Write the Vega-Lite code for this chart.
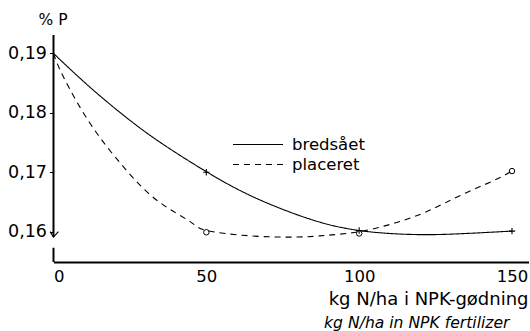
{
  "$schema": "https://vega.github.io/schema/vega-lite/v6.json",
  "autosize": "none",
  "width": 475,
  "height": 227,
  "padding": {"left": 53.5, "top": 35, "right": 1.5, "bottom": 69},
  "background": "white",
  "config": {
    "view": {"stroke": null},
    "font": "DejaVu Sans",
    "axis": {"labelFont": "DejaVu Sans", "titleFont": "DejaVu Sans", "labelColor": "black", "titleColor": "black"}
  },
  "title": {
    "text": "kg N/ha in NPK fertilizer",
    "orient": "bottom",
    "anchor": "end",
    "fontStyle": "italic",
    "fontWeight": "normal",
    "fontSize": 15.6,
    "font": "DejaVu Sans",
    "color": "black",
    "dx": -19,
    "offset": 8
  },
  "datasets": {
    "curves": [
      {"series": "bredsået", "x": 0, "y": 0.19},
      {"series": "bredsået", "x": 10, "y": 0.1852},
      {"series": "bredsået", "x": 20, "y": 0.1808},
      {"series": "bredsået", "x": 30, "y": 0.1768},
      {"series": "bredsået", "x": 40, "y": 0.1733},
      {"series": "bredsået", "x": 50, "y": 0.1701},
      {"series": "bredsået", "x": 60, "y": 0.1672},
      {"series": "bredsået", "x": 70, "y": 0.1648},
      {"series": "bredsået", "x": 80, "y": 0.1628},
      {"series": "bredsået", "x": 90, "y": 0.1612},
      {"series": "bredsået", "x": 100, "y": 0.1602},
      {"series": "bredsået", "x": 110, "y": 0.1597},
      {"series": "bredsået", "x": 122, "y": 0.1595},
      {"series": "bredsået", "x": 135, "y": 0.1597},
      {"series": "bredsået", "x": 150, "y": 0.1601},
      {"series": "placeret", "x": 0, "y": 0.19},
      {"series": "placeret", "x": 3.2, "y": 0.1861},
      {"series": "placeret", "x": 12, "y": 0.1782},
      {"series": "placeret", "x": 22.9, "y": 0.1709},
      {"series": "placeret", "x": 33.8, "y": 0.1653},
      {"series": "placeret", "x": 44.7, "y": 0.1617},
      {"series": "placeret", "x": 50, "y": 0.1602},
      {"series": "placeret", "x": 64.4, "y": 0.1593},
      {"series": "placeret", "x": 79.7, "y": 0.1591},
      {"series": "placeret", "x": 89.5, "y": 0.1594},
      {"series": "placeret", "x": 100, "y": 0.16},
      {"series": "placeret", "x": 111.3, "y": 0.1614},
      {"series": "placeret", "x": 122.2, "y": 0.1634},
      {"series": "placeret", "x": 133.1, "y": 0.1661},
      {"series": "placeret", "x": 144, "y": 0.1686},
      {"series": "placeret", "x": 150, "y": 0.1702}
    ],
    "points": [
      {"series": "bredsået", "x": 50, "y": 0.17},
      {"series": "bredsået", "x": 100, "y": 0.1602},
      {"series": "bredsået", "x": 150, "y": 0.1601},
      {"series": "placeret", "x": 50, "y": 0.1599},
      {"series": "placeret", "x": 100, "y": 0.1597},
      {"series": "placeret", "x": 150, "y": 0.1702}
    ],
    "yaxis": [
      {"x": 0, "y": 0.1931, "y2": 0.1591},
      {"x": 0, "y": 0.1573, "y2": 0.1549}
    ],
    "hook": [
      {"i": 0, "x": -1.1, "y": 0.1600},
      {"i": 1, "x": 0, "y": 0.1591},
      {"i": 2, "x": 1.6, "y": 0.1600}
    ]
  },
  "layer": [
    {
      "data": {"name": "curves"},
      "mark": {"type": "line", "interpolate": "natural", "color": "black", "strokeWidth": 1.1},
      "encoding": {
        "x": {
          "field": "x", "type": "quantitative",
          "scale": {"domain": [0, 155.4], "nice": false, "zero": false},
          "axis": {
            "values": [0, 50, 100, 150],
            "ticks": false,
            "domainColor": "black",
            "domainWidth": 2,
            "labelFontSize": 16.5,
            "labelPadding": 6,
            "grid": false,
            "title": "kg N/ha i NPK-gødning",
            "titleFontSize": 18,
            "titleFontWeight": "normal",
            "titleAlign": "right",
            "titleAnchor": "end",
            "titleBaseline": "alphabetic",
            "titleX": 474.5,
            "titleY": 42
          }
        },
        "y": {
          "field": "y", "type": "quantitative",
          "scale": {"domain": [0.1549, 0.1931], "nice": false, "zero": false},
          "axis": {
            "values": [0.16, 0.17, 0.18, 0.19],
            "labelExpr": "replace(format(datum.value, '.2f'), '.', ',')",
            "domain": false,
            "grid": false,
            "tickSize": 4,
            "tickColor": "black",
            "labelFontSize": 17.5,
            "labelPadding": 3,
            "title": "% P",
            "titleAngle": 0,
            "titleFontSize": 15.5,
            "titleFontWeight": "normal",
            "titleAlign": "center",
            "titleBaseline": "alphabetic",
            "titleX": -1,
            "titleY": -11
          }
        },
        "strokeDash": {
          "field": "series", "type": "nominal",
          "scale": {"domain": ["bredsået", "placeret"], "range": [[1, 0], [6, 5]]},
          "legend": {
            "orient": "none",
            "legendX": 178.5,
            "legendY": 100,
            "title": null,
            "symbolType": "stroke",
            "symbolSize": 2500,
            "symbolStrokeColor": "black",
            "symbolStrokeWidth": 1.1,
            "labelFontSize": 16.5,
            "labelFont": "DejaVu Sans",
            "labelColor": "black",
            "labelOffset": 8,
            "clipHeight": 19,
            "rowPadding": 1
          }
        }
      }
    },
    {
      "data": {"name": "points"},
      "transform": [{"filter": "datum.series == 'bredsået'"}],
      "mark": {"type": "point", "shape": "M-1,0H1M0,-1V1", "size": 40, "stroke": "black", "strokeWidth": 1.1, "filled": false, "opacity": 1},
      "encoding": {
        "x": {"field": "x", "type": "quantitative"},
        "y": {"field": "y", "type": "quantitative"}
      }
    },
    {
      "data": {"name": "points"},
      "transform": [{"filter": "datum.series == 'placeret'"}],
      "mark": {"type": "point", "shape": "circle", "size": 30, "stroke": "black", "strokeWidth": 1, "filled": false, "opacity": 1},
      "encoding": {
        "x": {"field": "x", "type": "quantitative"},
        "y": {"field": "y", "type": "quantitative"}
      }
    },
    {
      "data": {"name": "yaxis"},
      "mark": {"type": "rule", "color": "black", "strokeWidth": 2},
      "encoding": {
        "x": {"field": "x", "type": "quantitative"},
        "y": {"field": "y", "type": "quantitative"},
        "y2": {"field": "y2"}
      }
    },
    {
      "data": {"name": "hook"},
      "mark": {"type": "line", "color": "black", "strokeWidth": 1.2},
      "encoding": {
        "x": {"field": "x", "type": "quantitative"},
        "y": {"field": "y", "type": "quantitative"},
        "order": {"field": "i"}
      }
    }
  ]
}
